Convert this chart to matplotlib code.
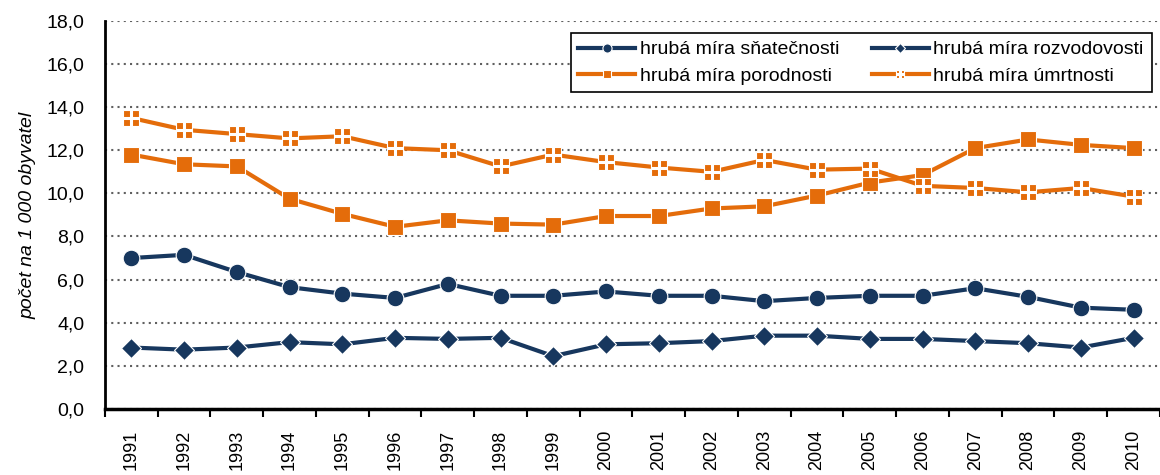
import matplotlib.pyplot as plt
from matplotlib.legend_handler import HandlerTuple

plt.rcParams['font.family'] = ['Liberation Sans', 'DejaVu Sans']

# data
roky = [str(r) for r in range(1991, 2011)]

snatecnost = [7.0, 7.15, 6.35, 5.65, 5.35, 5.15, 5.8, 5.25, 5.25, 5.45,
              5.25, 5.25, 5.0, 5.15, 5.25, 5.25, 5.6, 5.2, 4.7, 4.6]
rozvodovost = [2.85, 2.75, 2.85, 3.1, 3.0, 3.3, 3.25, 3.3, 2.45, 3.0,
               3.05, 3.15, 3.4, 3.4, 3.25, 3.25, 3.15, 3.05, 2.85, 3.3]
porodnost = [11.8, 11.35, 11.25, 9.75, 9.05, 8.45, 8.75, 8.6, 8.55, 8.95,
             8.95, 9.3, 9.4, 9.9, 10.5, 10.85, 12.1, 12.5, 12.25, 12.1]
umrtnost = [13.5, 12.95, 12.75, 12.55, 12.65, 12.1, 12.0, 11.25, 11.8, 11.45,
            11.2, 11.0, 11.55, 11.1, 11.15, 10.35, 10.25, 10.05, 10.25, 9.85]

MODRA = "#17375E"
ORANZ = "#E46C0A"

fig = plt.figure(figsize=(11.6, 4.75), dpi=100)
ax = fig.add_axes([0.0905, 0.139, 0.9095, 0.817])

x = list(range(len(roky)))

l1, = ax.plot(x, snatecnost, color=MODRA, lw=3, marker="o", ms=12,
              mec="white", mew=0.8, zorder=3)
l2, = ax.plot(x, rozvodovost, color=MODRA, lw=3, marker="D", ms=10,
              mec="white", mew=0.8, zorder=3)
l3, = ax.plot(x, porodnost, color=ORANZ, lw=3, marker="s", ms=11,
              mec="white", mew=0.8, zorder=3)
l4, = ax.plot(x, umrtnost, color=ORANZ, lw=3, marker="s", ms=11,
              mec="white", mew=0.8, zorder=3)
# bily kriz pres ctverec (umrtnost)
l4b, = ax.plot(x, umrtnost, ls="none", marker="+", ms=11.5,
               mec="white", mew=2.2, zorder=4)

ax.set_xlim(-0.5, len(roky) - 0.5)
ax.set_ylim(0, 18)
ax.set_yticks([i * 2 for i in range(10)])
ax.set_yticklabels([f"{i * 2:.1f}".replace(".", ",") for i in range(10)],
                   fontsize=14)
ax.set_xticks(x)
ax.set_xticklabels(roky, rotation=90, fontsize=13)
ax.set_xticks([i - 0.5 for i in range(len(roky) + 1)], minor=True)
ax.tick_params(axis="x", which="major", length=0, pad=15)
ax.tick_params(axis="x", which="minor", length=6, width=1.5, direction="out")
ax.tick_params(axis="y", length=0, pad=15)

ax.grid(axis="y", ls=(0, (1, 2)), color="#606060", lw=1.5)
ax.set_axisbelow(True)
for s in ["top", "right"]:
    ax.spines[s].set_visible(False)
ax.spines["left"].set_linewidth(2)
ax.spines["bottom"].set_linewidth(2.5)

ax.set_ylabel("počet na 1 000 obyvatel", fontsize=14, style="italic", labelpad=7)

# legenda po radcich jako v Excelu
leg = ax.legend([l1, l3, l2, (l4, l4b)],
                ["hrubá míra sňatečnosti", "hrubá míra porodnosti",
                 "hrubá míra rozvodovosti", "hrubá míra úmrtnosti"],
                handler_map={tuple: HandlerTuple(ndivide=1)},
                ncol=2, loc="upper right", bbox_to_anchor=(0.992, 0.969),
                borderaxespad=0, fontsize=14, markerscale=0.55,
                handlelength=2.9, columnspacing=1.7, handletextpad=0.25,
                borderpad=0.4, labelspacing=0.45, fancybox=False,
                framealpha=1, edgecolor="black")
leg.get_frame().set_linewidth(1.2)

fig.savefig("out.png", dpi=100)
